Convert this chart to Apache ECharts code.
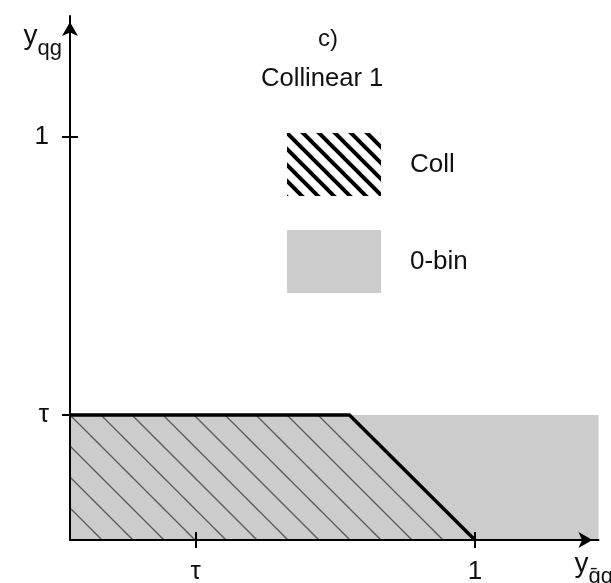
<!DOCTYPE html>
<html><head><meta charset="utf-8">
<script src="https://cdn.jsdelivr.net/npm/echarts@6/dist/echarts.min.js"></script>
<style>html,body{margin:0;padding:0;background:#fff}#c{width:611px;height:583px}</style>
</head><body><div id="c"></div>
<script>
// ---- data ----
const TAU = 0.31;
const xTickValues = [TAU, 1];
const xTickLabels = ['τ', '1'];
const yTickValues = [TAU, 1];
const yTickLabels = ['τ', '1'];
const xMax = 1.305;
const yMax = 1.3;
const collBoundary = [[0, TAU], [1 - TAU, TAU], [1, 0]];
const zeroBinTop = [[0, TAU], [xMax, TAU]];
const legendNames = ['Coll', '0-bin'];
const panelLabel = 'c)';
const panelTitle = 'Collinear 1';

// ---- styles ----
const FONT = 'Liberation Sans';
const TXT = '#111';
function hatch(size, width, color, phase, cap) {
  const c = document.createElement('canvas');
  c.width = c.height = size;
  const g = c.getContext('2d');
  g.strokeStyle = color; g.lineWidth = width; g.lineCap = cap || 'butt';
  for (let k = -3; k <= 3; k++) {
    const x0 = phase + k * size;
    g.beginPath();
    g.moveTo(x0 - size, -size);
    g.lineTo(x0 + 2 * size, 2 * size);
    g.stroke();
  }
  return { image: c, repeat: 'repeat' };
}
const thinHatch = hatch(31, 1.3, '#5a5a5a', 27);
const thickHatch = hatch(16, 4, '#000', 0);

function lbl(values, labels) {
  return v => { const i = values.findIndex(t => Math.abs(t - v) < 1e-9); return i >= 0 ? labels[i] : ''; };
}

const chart = echarts.init(document.getElementById('c'), null, { renderer: 'canvas' });
const baseX = { type: 'value', min: 0, max: xMax, position: 'bottom', splitLine: { show: false }, z: 10 };
const baseY = { type: 'value', min: 0, max: yMax, position: 'left', splitLine: { show: false }, z: 10 };
const tickStyle = { color: '#000', width: 2 };
const nameRich = {
  a: { fontSize: 28, color: TXT, fontFamily: FONT, verticalAlign: 'top', lineHeight: 30 },
  b: { fontSize: 22, color: TXT, fontFamily: FONT, verticalAlign: 'bottom', lineHeight: 22, padding: [0, 0, -8, 0] }
};

chart.setOption({
  animation: false,
  backgroundColor: '#fff',
  textStyle: { fontFamily: FONT },
  grid: { left: 70, right: 12.5, top: 16.1, bottom: 43, containLabel: false, outerBoundsMode: 'none' },
  title: [
    { text: panelLabel, left: 313, top: 22, textStyle: { fontSize: 24, fontWeight: 'normal', color: TXT, fontFamily: FONT } },
    { text: panelTitle, left: 256, top: 61, textStyle: { fontSize: 25.6, fontWeight: 'normal', color: TXT, fontFamily: FONT } }
  ],
  legend: {
    left: 282, top: 128, orient: 'vertical', itemWidth: 94, itemHeight: 63, itemGap: 34,
    selectedMode: false,
    data: [
      { name: legendNames[0], icon: 'rect', itemStyle: { color: thickHatch, borderWidth: 0 } },
      { name: legendNames[1], icon: 'rect', itemStyle: { color: '#cccccc', borderWidth: 0 } }
    ],
    textStyle: { fontSize: 26, color: TXT, fontFamily: FONT, padding: [0, 0, 0, 24] }
  },
  xAxis: [
    Object.assign({}, baseX, {
      axisLine: { show: true, onZero: false, lineStyle: { color: '#000', width: 2 }, symbol: ['none', 'arrow'], symbolSize: [12, 14], symbolOffset: [0, -6] },
      axisTick: { show: true, customValues: xTickValues, length: 8, lineStyle: tickStyle },
      axisLabel: { customValues: xTickValues, formatter: lbl(xTickValues, xTickLabels), margin: 19, fontSize: 26, color: TXT, fontFamily: FONT },
      name: '{a|y}{b|q\u0304g}', nameLocation: 'end', nameGap: -24,
      nameTextStyle: { align: 'left', verticalAlign: 'top', padding: [10, 0, 0, 0], rich: nameRich }
    }),
    Object.assign({}, baseX, {
      axisLine: { show: false, onZero: false },
      axisTick: { show: true, inside: true, customValues: xTickValues, length: 8, lineStyle: tickStyle },
      axisLabel: { show: false }
    })
  ],
  yAxis: [
    Object.assign({}, baseY, {
      axisLine: { show: true, onZero: false, lineStyle: { color: '#000', width: 2 }, symbol: ['none', 'arrow'], symbolSize: [12, 14], symbolOffset: [0, -6] },
      axisTick: { show: true, customValues: yTickValues, length: 8, lineStyle: tickStyle },
      axisLabel: { customValues: yTickValues, formatter: lbl(yTickValues, yTickLabels), margin: 21, fontSize: 26, color: TXT, fontFamily: FONT },
      name: '{a|y}{b|qg}', nameLocation: 'end', nameGap: -6,
      nameTextStyle: { align: 'right', verticalAlign: 'top', padding: [0, 8, 0, 0], rich: nameRich }
    }),
    Object.assign({}, baseY, {
      axisLine: { show: false, onZero: false },
      axisTick: { show: true, inside: true, customValues: yTickValues, length: 8, lineStyle: tickStyle },
      axisLabel: { show: false }
    })
  ],
  series: [
    { name: legendNames[1], type: 'line', data: zeroBinTop, symbol: 'none', z: 1, silent: true,
      itemStyle: { color: '#cccccc' },
      lineStyle: { width: 0, opacity: 0 }, areaStyle: { color: '#cccccc', opacity: 1 } },
    { name: legendNames[0], type: 'line', data: collBoundary, symbol: 'none', z: 3, silent: true,
      itemStyle: { color: '#000' },
      lineStyle: { color: '#000', width: 3.5, join: 'miter' }, areaStyle: { color: thinHatch, opacity: 1 } }
  ]
});
</script></body></html>
